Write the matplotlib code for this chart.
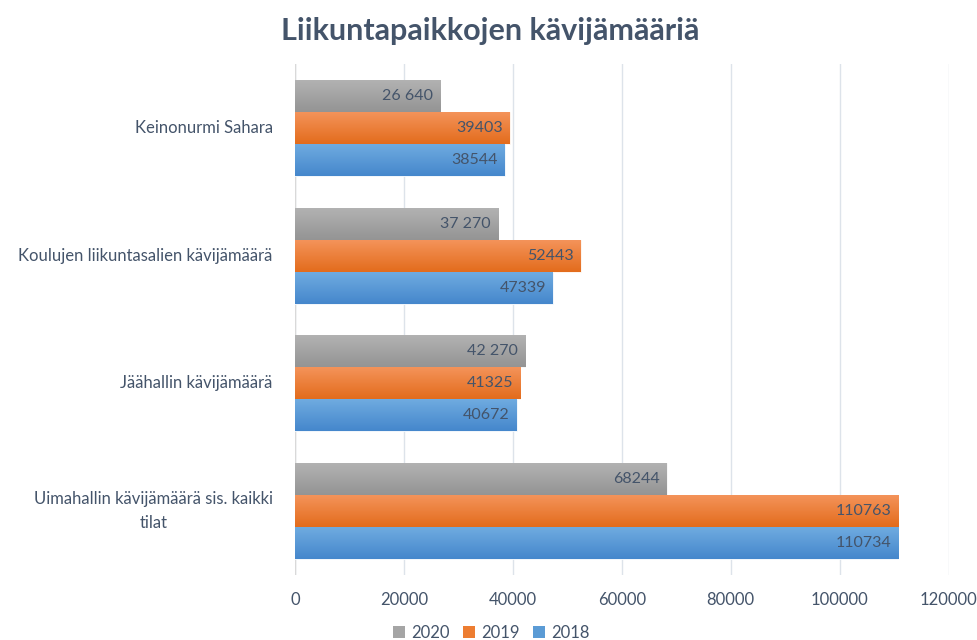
import matplotlib
matplotlib.use("Agg")
import matplotlib.pyplot as plt
import matplotlib.transforms as mtransforms
import numpy as np
from matplotlib.colors import LinearSegmentedColormap
from matplotlib.patches import Patch

plt.rcParams['font.family'] = ['Lato', 'DejaVu Sans']

categories = ["Uimahallin kävijämäärä sis. kaikki\ntilat", "Jäähallin kävijämäärä",
              "Koulujen liikuntasalien kävijämäärä", "Keinonurmi Sahara"]
series_names = ["2020", "2019", "2018"]
values_2020 = [68244, 42270, 37270, 26640]
values_2019 = [110763, 41325, 52443, 39403]
values_2018 = [110734, 40672, 47339, 38544]
labels_2020 = ["68244", "42 270", "37 270", "26 640"]
labels_2019 = ["110763", "41325", "52443", "39403"]
labels_2018 = ["110734", "40672", "47339", "38544"]
xticks = [0, 20000, 40000, 60000, 80000, 100000, 120000]

text_col = "#44546A"
grads = {
    "2020": ("#b2b2b2", "#949494"),
    "2019": ("#f4935a", "#e36c1c"),
    "2018": ("#6fabe0", "#4587cc"),
}
flat = {"2020": "#a5a5a5", "2019": "#ed7d31", "2018": "#5b9bd5"}

fig = plt.figure(figsize=(9.77, 6.4), dpi=100)
ax = fig.add_axes([0.302, 0.1016, 0.669, 0.7984])

h = 0.25
y = np.arange(len(categories))
offsets = {"2020": h, "2019": 0.0, "2018": -h}
data = {"2020": (values_2020, labels_2020), "2019": (values_2019, labels_2019),
        "2018": (values_2018, labels_2018)}

grad_img = np.linspace(0, 1, 64).reshape(-1, 1)
for name in series_names:
    vals, labs = data[name]
    bars = ax.barh(y + offsets[name], vals, height=h, color=flat[name],
                   edgecolor="white", linewidth=0.6, zorder=2)
    cmap = LinearSegmentedColormap.from_list(name, [grads[name][0], grads[name][1]])
    for b, lab in zip(bars, labs):
        x0, y0 = b.get_x(), b.get_y()
        w, hh = b.get_width(), b.get_height()
        im = ax.imshow(grad_img, extent=[x0, x0 + w, y0, y0 + hh], origin='upper',
                       cmap=cmap, aspect='auto', zorder=2.5, interpolation='bilinear')
        im.set_clip_path(b)
        ax.text(x0 + w - 1300, y0 + hh / 2, lab, ha='right', va='center',
                color=text_col, fontsize=11.5, zorder=4)

ax.set_xlim(0, 120000)
ax.set_ylim(-0.5, 3.5)
ax.set_xticks(xticks)
ax.set_xticklabels([str(t) for t in xticks])
ax.set_yticks(y)
ax.set_yticklabels([""] * len(categories))
lab_tr = mtransforms.offset_copy(ax.get_yaxis_transform(), fig=fig, x=-16, y=0, units='points')
for yi, cat in zip(y, categories):
    ax.text(0, yi, cat, transform=lab_tr, ha='right', va='center', multialignment='center',
            fontsize=12, color=text_col, linespacing=1.65)
ax.tick_params(axis='x', length=0, labelsize=12, labelcolor=text_col, pad=12)
ax.tick_params(axis='y', length=0)
ax.grid(axis='x', color="#dde3ea", linewidth=1.0, zorder=0)
ax.set_axisbelow(True)
for s in ax.spines.values():
    s.set_visible(False)
ax.axvline(0, color="#d9d9d9", linewidth=1.0, zorder=1)

fig.text(0.502, 0.952, "Liikuntapaikkojen kävijämääriä", ha='center', va='center',
         fontsize=22, fontweight='bold', color=text_col)

handles = [Patch(facecolor=flat[n], label=n) for n in series_names]
fig.legend(handles=handles, loc='lower center', bbox_to_anchor=(0.503, -0.025), ncol=3,
           frameon=False, fontsize=12, handlelength=0.7, handleheight=0.7,
           handletextpad=0.4, columnspacing=0.8, labelcolor=text_col)

fig.savefig("out.png", dpi=100)
